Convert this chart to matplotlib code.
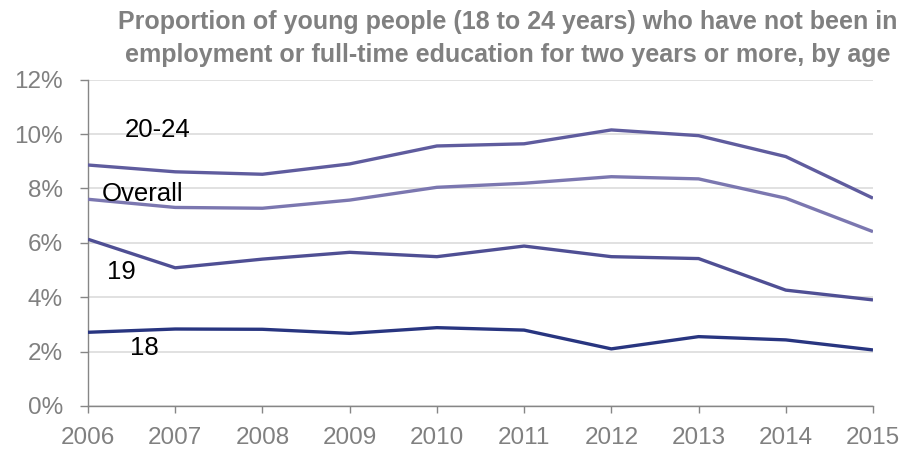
import matplotlib
matplotlib.use("Agg")
import matplotlib.pyplot as plt
from matplotlib.ticker import FuncFormatter

years = [2006, 2007, 2008, 2009, 2010, 2011, 2012, 2013, 2014, 2015]
age_20_24 = [8.86, 8.61, 8.52, 8.90, 9.56, 9.64, 10.15, 9.94, 9.17, 7.64]
overall = [7.60, 7.30, 7.27, 7.57, 8.04, 8.19, 8.43, 8.35, 7.64, 6.41]
age_19 = [6.13, 5.08, 5.40, 5.65, 5.49, 5.88, 5.49, 5.42, 4.26, 3.90]
age_18 = [2.71, 2.83, 2.82, 2.67, 2.88, 2.79, 2.10, 2.55, 2.43, 2.06]

series = [
    ("20-24", age_20_24, "#5f5c9e"),
    ("Overall", overall, "#7b77b0"),
    ("19", age_19, "#4f4f94"),
    ("18", age_18, "#283580"),
]
label_pos = {"20-24": (2006.42, 10.16), "Overall": (2006.16, 7.8), "19": (2006.22, 4.93), "18": (2006.48, 2.15)}

title_lines = ["Proportion of young people (18 to 24 years) who have not been in",
               "employment or full-time education for two years or more, by age"]

plt.rcParams['font.family'] = ['Liberation Sans', 'DejaVu Sans']

fig = plt.figure(figsize=(9.07, 4.49), dpi=100)
ax = fig.add_axes([0.097, 0.0958, 0.8655, 0.7269])

for name, vals, col in series:
    ax.plot(years, vals, color=col, lw=2.4, solid_capstyle='butt', zorder=3)
    x, y = label_pos[name]
    ax.text(x, y, name, fontsize=18.5, color='black', ha='left', va='center', zorder=4)

ax.set_xlim(2006, 2015)
ax.set_ylim(0, 12)
ax.set_yticks(range(0, 13, 2))
ax.set_xticks(years)
ax.yaxis.set_major_formatter(FuncFormatter(lambda v, p: f"{int(v)}%"))
ax.grid(axis='y', color='#d9d9d9', lw=1.1, zorder=0)
ax.set_axisbelow(True)
for s in ['top', 'right']:
    ax.spines[s].set_visible(False)
for s in ['left', 'bottom']:
    ax.spines[s].set_color('#868686')
    ax.spines[s].set_linewidth(1.0)
ax.tick_params(axis='both', colors='#868686', labelcolor='#808080', labelsize=17.5,
               width=1.0, direction='out')
ax.tick_params(axis='x', pad=10, length=5)
ax.tick_params(axis='y', pad=12, length=6)

for line, yy in zip(title_lines, [0.951, 0.877]):
    fig.text(0.56, yy, line, ha='center', va='center', fontsize=18,
             fontweight='bold', color='#808080')

fig.savefig("out.png", dpi=100)
